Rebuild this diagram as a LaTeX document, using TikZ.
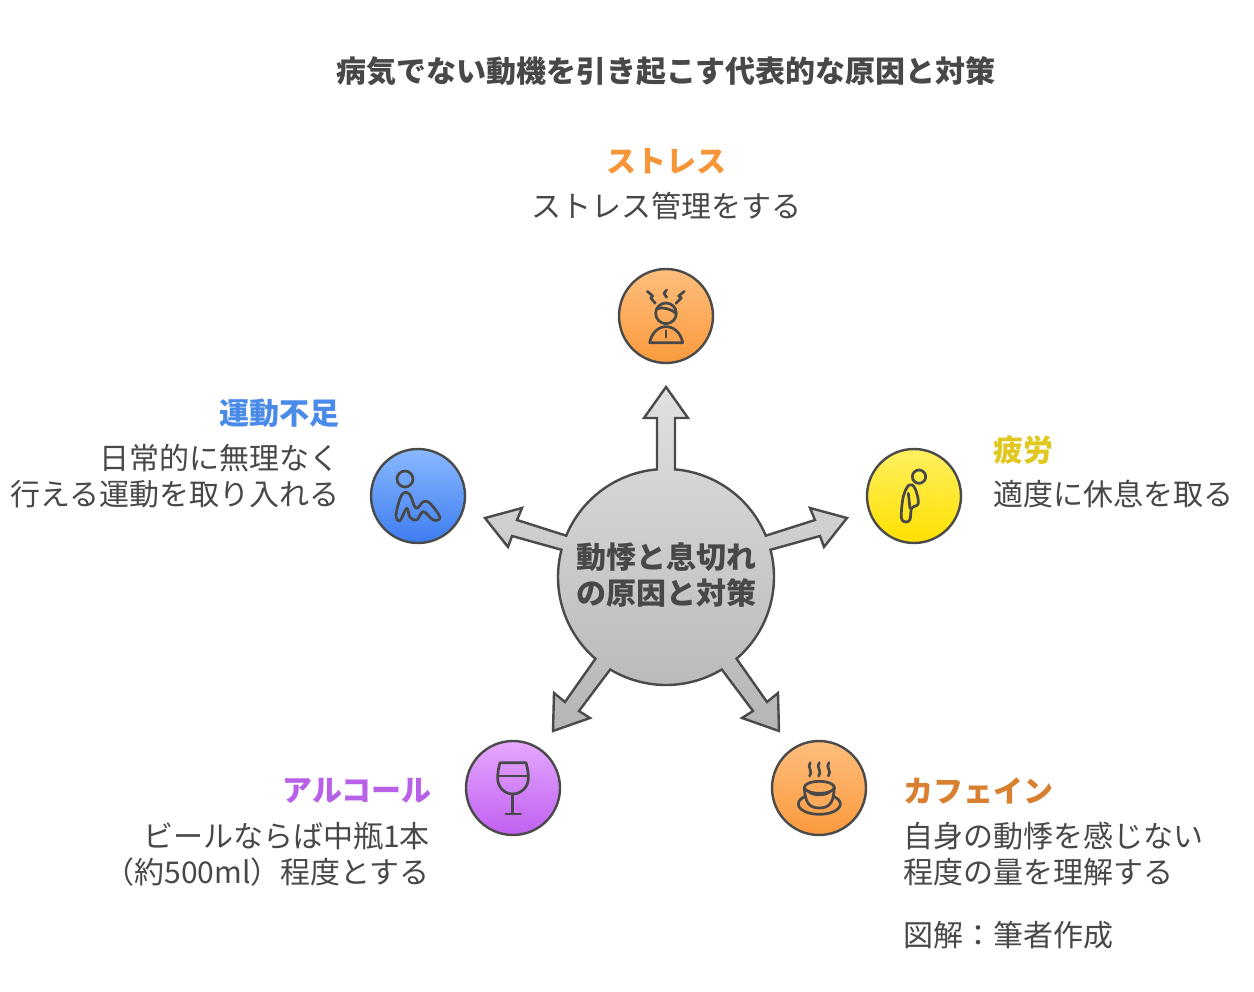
\documentclass[tikz,border=0pt]{standalone}
\usepackage{fontspec}
\setmainfont{Noto Sans CJK JP}
\definecolor{ink}{HTML}{484848}
\definecolor{lineink}{HTML}{4A4A4A}
\tikzset{
  px/.style={x=1pt,y=-1pt},
  zoomed/.style={x=0.33333pt,y=-0.33333pt},
  txt/.style={inner sep=0pt,text=ink,font=\fontsize{30}{36}\selectfont},
  head/.style={inner sep=0pt,font=\fontsize{30}{36}\selectfont\bfseries},
  disc/.style={circle,draw=lineink,line width=2.4pt,minimum size=94pt,inner sep=0pt},
  glyph/.style={draw=ink,line width=2.7pt,line cap=round,line join=round},
}
\begin{document}
\begin{tikzpicture}[px]
\useasboundingbox (0,0) rectangle (1254,992);
\fill[white] (0,0) rectangle (1254,992);
% central star outline
\path[draw=lineink,line width=2.4pt,line join=miter,top color=black!12,bottom color=black!29]
  plot[domain=94.8:157.5,samples=30] ({666+108*cos(\x)},{577-108*sin(\x)})
  -- (517,520) -- (522,508) -- (485,518) -- (508,547) -- (512,536)
  -- plot[domain=165.4:229.2,samples=30] ({666+108*cos(\x)},{577-108*sin(\x)})
  -- (565,702) -- (554,693) -- (553,731) -- (590,718) -- (579,711)
  -- plot[domain=238.9:301.1,samples=30] ({666+108*cos(\x)},{577-108*sin(\x)})
  -- (753,711) -- (742,718) -- (779,731) -- (778,693) -- (767,702)
  -- plot[domain=310.8:374.6,samples=30] ({666+108*cos(\x)},{577-108*sin(\x)})
  -- (820,536) -- (824,547) -- (847,518) -- (810,508) -- (815,520)
  -- plot[domain=382.5:445.2,samples=30] ({666+108*cos(\x)},{577-108*sin(\x)})
  -- (675,418) -- (688,418) -- (666,387) -- (644,418) -- (657,418) -- cycle;
\node[head,text=ink,align=center] (center) at (666,575) {動悸と息切れ\\の原因と対策};
% title
\node[head,text=ink] (title) at (666,71) {病気でない動機を引き起こす代表的な原因と対策};
% discs
\node[disc,top color={rgb,255:red,253;green,190;blue,126},bottom color={rgb,255:red,251;green,154;blue,60}] (stress) at (666,316) {};
\node[disc,top color={rgb,255:red,138;green,184;blue,255},bottom color={rgb,255:red,61;green,125;blue,240}] (exercise) at (418,496) {};
\node[disc,top color={rgb,255:red,255;green,240;blue,96},bottom color={rgb,255:red,255;green,224;blue,0}] (fatigue) at (914,496) {};
\node[disc,top color={rgb,255:red,229;green,168;blue,255},bottom color={rgb,255:red,192;green,96;blue,240}] (alcohol) at (513,788) {};
\node[disc,top color={rgb,255:red,253;green,190;blue,126},bottom color={rgb,255:red,251;green,154;blue,60}] (caffeine) at (819,788) {};
% labels
\node[head,text={rgb,255:red,247;green,150;blue,56}] (t1) at (666,161) {ストレス};
\node[txt] (b1) at (666,206) {ストレス管理をする};
\node[head,text={rgb,255:red,74;green,138;blue,232},anchor=east] (t2) at (340,413) {運動不足};
\node[txt,align=right,anchor=east] (b2) at (340,476) {日常的に無理なく\\行える運動を取り入れる};
\node[head,text={rgb,255:red,224;green,200;blue,32},anchor=west] (t3) at (993,450) {疲労};
\node[txt,anchor=west] (b3) at (993,494) {適度に休息を取る};
\node[head,text={rgb,255:red,184;green,96;blue,232},anchor=east] (t4) at (432,791) {アルコール};
\node[txt,align=right,anchor=east] (b4) at (430,854) {ビールならば中瓶1本\\（約500ml）程度とする};
\node[head,text={rgb,255:red,217;green,128;blue,48},anchor=west] (t5) at (903,791) {カフェイン};
\node[txt,align=left,anchor=west] (b5) at (903,854) {自身の動悸を感じない\\程度の量を理解する};
\node[txt,anchor=west] (note) at (903,935) {図解：筆者作成};
% stress icon
\begin{scope}[shift={(540,250)},zoomed]
  \draw[glyph] (378,190) circle[radius=31];
  \draw[glyph] (350,176) .. controls (370,170) and (395,178) .. (408,190);
  \draw[glyph] (329,278) .. controls (335,248) and (355,230) .. (378,230) .. controls (402,230) and (422,248) .. (428,278) -- cycle;
  \draw[glyph] (378,242) -- (378,262);
  \draw[glyph] (322,124) -- (338,138) -- (332,144) -- (346,160);
  \draw[glyph] (380,120) -- (372,130) -- (380,142);
  \draw[glyph] (433,124) -- (416,138) -- (424,144) -- (408,160);
\end{scope}
% exercise icon
\begin{scope}[shift={(360,440)},zoomed]
  \draw[glyph] (135,117) circle[radius=24];
  \draw[glyph] plot[smooth cycle,tension=0.6] coordinates {(125,165) (108,225) (120,242) (140,205) (150,232) (170,240) (190,215) (220,240) (240,232) (210,190) (190,185) (168,205) (148,162)};
\end{scope}
% fatigue icon
\begin{scope}[shift={(760,440)},zoomed]
  \draw[glyph] (477,110) circle[radius=20];
  \draw[glyph] plot[smooth cycle,tension=0.6] coordinates {(447,135) (430,170) (424,232) (437,246) (450,238) (455,205) (475,190) (465,145)};
  \draw[glyph] (445,160) -- (450,205);
\end{scope}
% wine icon
\begin{scope}[shift={(450,650)},zoomed]
  \draw[glyph] (150,338) -- (228,338) .. controls (234,360) and (235,372) .. (235,385) .. controls (235,412) and (212,432) .. (188,432) .. controls (164,432) and (143,412) .. (143,385) .. controls (143,372) and (144,360) .. (150,338) -- cycle;
  \draw[glyph] (144,378) -- (234,378);
  \draw[glyph] (188,432) -- (188,492) (167,492) -- (212,492);
\end{scope}
% coffee icon
\begin{scope}[shift={(700,650)},zoomed]
  \draw[glyph] (358,462) ellipse[x radius=63,y radius=31];
  \draw[glyph,fill={rgb,255:red,251;green,170;blue,92}] (313,412) .. controls (315,450) and (322,474) .. (358,474) .. controls (394,474) and (401,450) .. (403,412) -- cycle;
  \draw[glyph,fill={rgb,255:red,251;green,170;blue,92}] (358,412) ellipse[x radius=45,y radius=18];
  \draw[glyph] (326,424) .. controls (336,438) and (380,438) .. (390,424);
  \draw[glyph] (331,338) .. controls (319,350) and (341,364) .. (329,378);
  \draw[glyph] (358,338) .. controls (346,350) and (368,364) .. (356,378);
  \draw[glyph] (387,338) .. controls (375,350) and (397,364) .. (385,378);
\end{scope}
\end{tikzpicture}
\end{document}
